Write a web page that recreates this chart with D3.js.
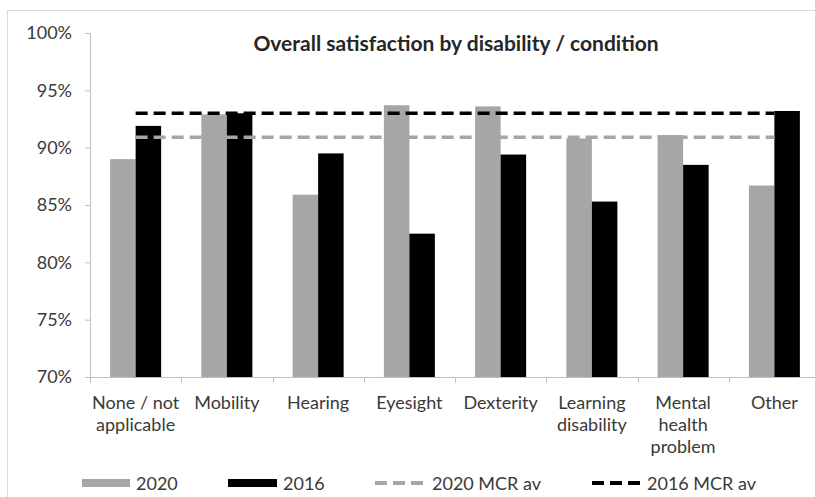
<!DOCTYPE html>
<html>
<head>
<meta charset="utf-8">
<script src="https://cdn.jsdelivr.net/npm/d3@7"></script>
<style>
  html, body { margin: 0; padding: 0; background: #fff; }
  svg { display: block; font-family: Lato, "Open Sans", sans-serif; }
</style>
</head>
<body>
<svg id="chart" width="815" height="497"></svg>
<script>
// Category labels, already broken into lines
const categories = [
  ["None / not", "applicable"],
  ["Mobility"],
  ["Hearing"],
  ["Eyesight"],
  ["Dexterity"],
  ["Learning", "disability"],
  ["Mental", "health", "problem"],
  ["Other"]
];
const categoryKeys = categories.map(c => c.join(" "));

// Satisfaction shares per category
const values2020 = [0.890, 0.929, 0.859, 0.937, 0.936, 0.908, 0.911, 0.867];
const values2016 = [0.919, 0.930, 0.895, 0.825, 0.894, 0.853, 0.885, 0.932];

// MCR averages, one point per category
const mcrAv2020 = [0.909, 0.909, 0.909, 0.909, 0.909, 0.909, 0.909, 0.909];
const mcrAv2016 = [0.930, 0.930, 0.930, 0.930, 0.930, 0.930, 0.930, 0.930];

const yTicks = [0.70, 0.75, 0.80, 0.85, 0.90, 0.95, 1.00];

const barSeries = [
  { name: "2020", values: values2020, color: "#a6a6a6" },
  { name: "2016", values: values2016, color: "#000000" }
];
const lineSeries = [
  { name: "2020 MCR av", values: mcrAv2020, color: "#a6a6a6" },
  { name: "2016 MCR av", values: mcrAv2016, color: "#000000" }
];

const svg = d3.select("#chart");
const textColor = "#3a3a3a";
const axisColor = "#bfbfbf";

// Outer chart frame (extends past the right and bottom edges)
svg.append("rect")
  .attr("x", 7.5).attr("y", 10.5)
  .attr("width", 900).attr("height", 600)
  .attr("fill", "none").attr("stroke", "#d9d9d9").attr("stroke-width", 1);

const plot = { left: 90, right: 820, top: 33, bottom: 377 };

const x = d3.scaleBand().domain(categoryKeys).range([plot.left, plot.right]).paddingInner(0).paddingOuter(0);
const y = d3.scaleLinear().domain([0.70, 1.00]).range([plot.bottom, plot.top]);

const barW = 25.5;
const xInner = d3.scaleBand().domain(barSeries.map(s => s.name)).range([-barW, barW]);
const center = k => x(k) + x.bandwidth() / 2;

// Title
svg.append("text")
  .attr("x", 456).attr("y", 51)
  .attr("text-anchor", "middle")
  .attr("font-size", 21).attr("font-weight", "bold")
  .attr("fill", "#262626")
  .text("Overall satisfaction by disability / condition");

// Y axis
const yAxis = d3.axisLeft(y).tickValues(yTicks).tickFormat(d3.format(".0%")).tickSize(5).tickPadding(13);
const gy = svg.append("g").attr("transform", `translate(${plot.left},0)`).call(yAxis);
gy.select(".domain").attr("stroke", axisColor);
gy.selectAll(".tick line").attr("stroke", axisColor);
gy.selectAll(".tick text").attr("fill", textColor).attr("font-size", 18).attr("font-family", "Lato, sans-serif");

// Bars
barSeries.forEach(s => {
  svg.append("g").selectAll("rect")
    .data(s.values)
    .join("rect")
    .attr("x", (d, i) => center(categoryKeys[i]) + xInner(s.name))
    .attr("width", xInner.bandwidth())
    .attr("y", d => y(d))
    .attr("height", d => y(0.70) - y(d))
    .attr("fill", s.color);
});

// X axis with ticks at category boundaries
const gx = svg.append("g").attr("transform", `translate(0,${plot.bottom})`);
gx.append("line")
  .attr("x1", plot.left).attr("x2", plot.right)
  .attr("y1", 0.5).attr("y2", 0.5)
  .attr("stroke", axisColor);
gx.selectAll("line.tick")
  .data(categoryKeys)
  .join("line")
  .attr("class", "tick")
  .attr("x1", d => Math.round(x(d)) + 0.5).attr("x2", d => Math.round(x(d)) + 0.5)
  .attr("y1", 0).attr("y2", 6)
  .attr("stroke", axisColor);

const labels = svg.append("g").attr("fill", textColor).attr("font-size", 18).attr("text-anchor", "middle");
categories.forEach((lines, i) => {
  const t = labels.append("text").attr("x", center(categoryKeys[i])).attr("y", 409);
  lines.forEach((ln, j) => {
    t.append("tspan").attr("x", center(categoryKeys[i])).attr("dy", j === 0 ? 0 : 22).text(ln);
  });
});

// Average lines across category centres, drawn over the bars
const line = d3.line().x((d, i) => center(categoryKeys[i])).y(d => y(d));
lineSeries.forEach(s => {
  svg.append("path")
    .datum(s.values)
    .attr("d", line)
    .attr("fill", "none")
    .attr("stroke", s.color)
    .attr("stroke-width", 3.5)
    .attr("stroke-dasharray", "12,6");
});

// Legend
const legendY = 483;
const legend = svg.append("g");
const legendItems = [
  { kind: "bar", series: barSeries[0], x0: 82, x1: 130, tx: 136 },
  { kind: "bar", series: barSeries[1], x0: 228, x1: 277, tx: 283 },
  { kind: "line", series: lineSeries[0], x0: 375, x1: 425, tx: 432 },
  { kind: "line", series: lineSeries[1], x0: 592, x1: 640, tx: 647 }
];
legendItems.forEach(it => {
  if (it.kind === "bar") {
    legend.append("rect")
      .attr("x", it.x0).attr("y", legendY - 4)
      .attr("width", it.x1 - it.x0).attr("height", 8)
      .attr("fill", it.series.color);
  } else {
    legend.append("line")
      .attr("x1", it.x0).attr("x2", it.x1)
      .attr("y1", legendY).attr("y2", legendY)
      .attr("stroke", it.series.color)
      .attr("stroke-width", 4)
      .attr("stroke-dasharray", "12,6");
  }
  legend.append("text")
    .attr("x", it.tx).attr("y", legendY + 6.5)
    .attr("font-size", 18).attr("fill", textColor)
    .text(it.series.name);
});
</script>
</body>
</html>
